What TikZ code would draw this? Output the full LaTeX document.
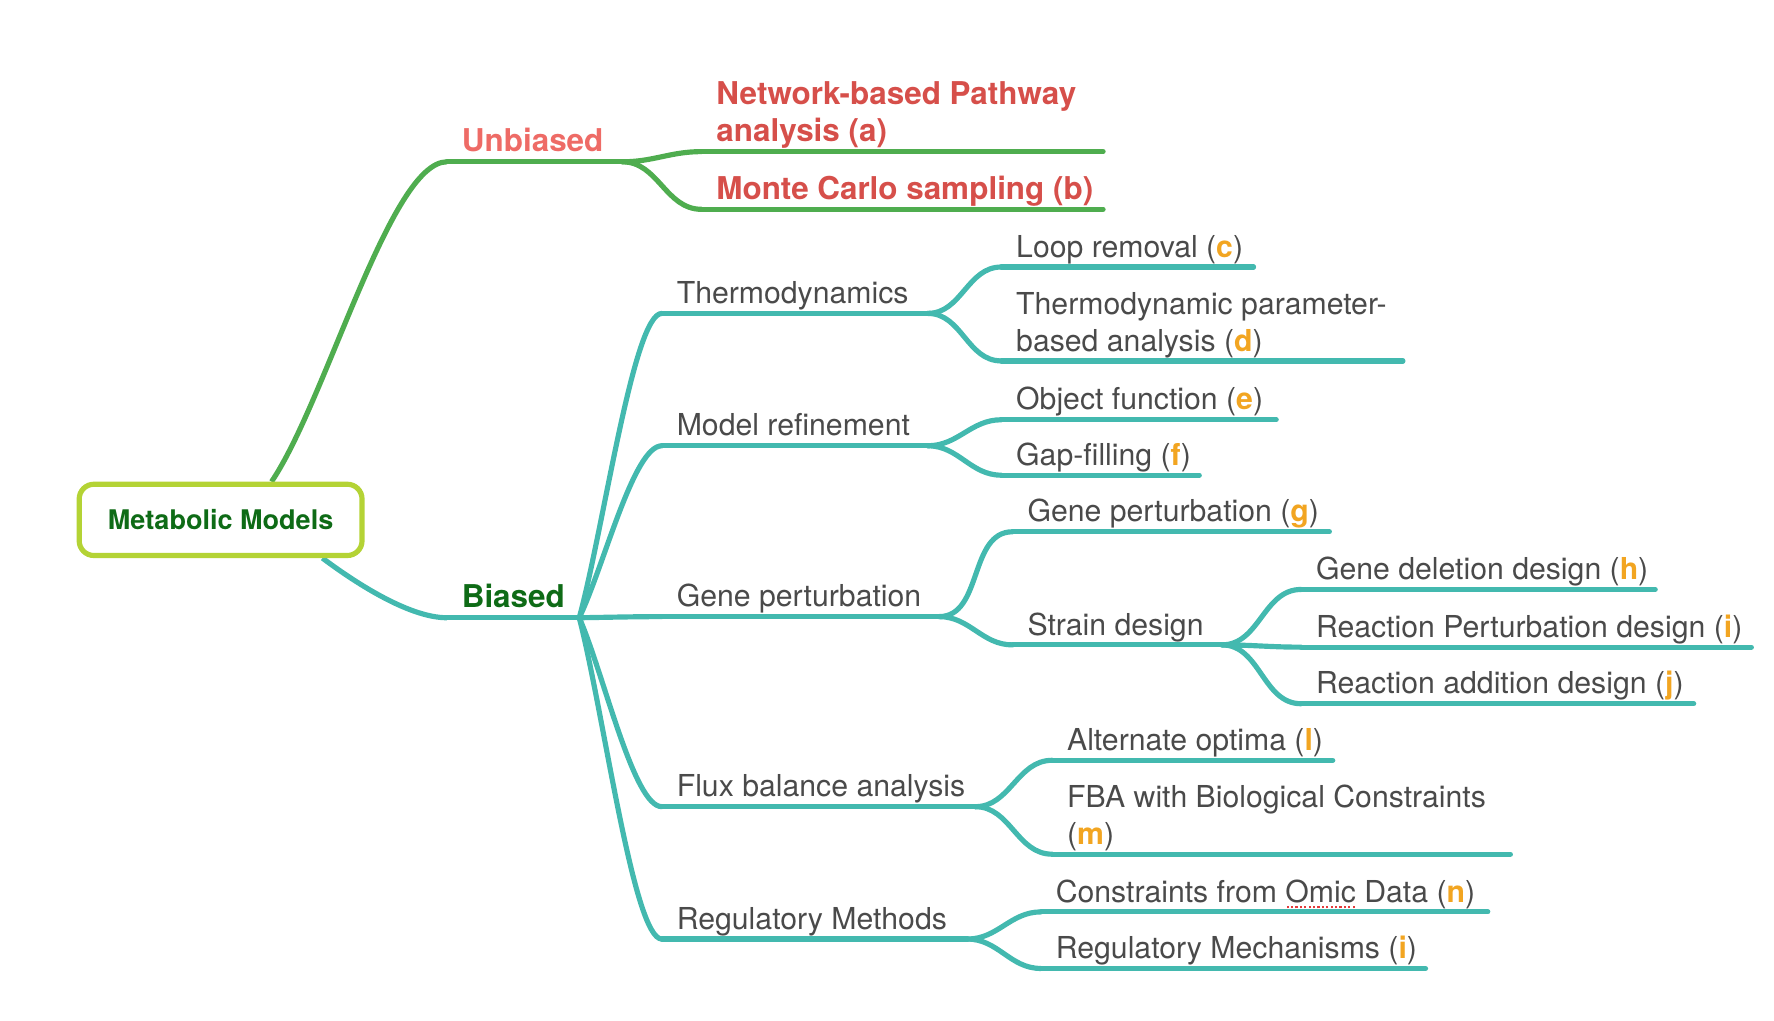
\documentclass[tikz,border=0pt]{standalone}
\usepackage{fontspec}
\setmainfont{TeX Gyre Heros}
\usetikzlibrary{calc,backgrounds}
\definecolor{tealline}{HTML}{43B9AF}
\definecolor{greenline}{HTML}{4FAD4F}
\definecolor{limeframe}{HTML}{B4D335}
\definecolor{darkleaf}{HTML}{0E6B16}
\definecolor{salmon}{HTML}{EE6B66}
\definecolor{redtext}{HTML}{D64F4A}
\definecolor{refletter}{HTML}{F2A521}
\definecolor{greytext}{HTML}{4A4A4A}
\definecolor{spellred}{HTML}{E23B3B}
\newcommand{\refl}[1]{\textbf{\textcolor{refletter}{#1}}}
\newsavebox{\spellbox}
\newcommand{\spellmark}[1]{\sbox{\spellbox}{#1}\rlap{\textcolor{spellred}{\raisebox{-1.6pt}{\hbox to \wd\spellbox{\xleaders\hbox to 1.1pt{\hss\rule{0.55pt}{0.55pt}\hss}\hfill}}}}\usebox{\spellbox}}
\begin{document}
\begin{tikzpicture}[x=0.1mm, y=-0.1mm, line cap=round, line join=round,
    font=\fontsize{7.6}{9.2}\selectfont,
    leaf/.style={anchor=south west, inner xsep=1.25mm, inner ysep=-0.5pt, align=left, text=greytext, execute at end node=\strut},
    head/.style={leaf, font=\fontsize{7.9}{9.4}\selectfont\bfseries},
    twig/.style={line width=1.3pt, draw=tealline},
    fan/.style={to path={.. controls ($(\tikztostart)!0.3!(\tikztotarget)$) and ([xshift=-2.5mm]\tikztotarget) .. (\tikztotarget)}}]
\useasboundingbox (0,0) rectangle (1568,902);
\node[draw=limeframe, line width=1.3pt, rounded corners=1.3mm, fill=white, minimum width=25mm, minimum height=6.3mm, inner sep=0pt, text=darkleaf, font=\fontsize{6.8}{8}\selectfont\bfseries] (mm) at (195,459.5) {Metabolic Models};
\node[head, text=salmon] (ub) at (395,143) {Unbiased};
\node[head, text=darkleaf] (bi) at (395,546) {Biased};
\node[head, text=redtext] (nw) at (620,134) {Network-based Pathway\\analysis (a)};
\node[head, text=redtext] (mc) at (620,185) {Monte Carlo sampling (b)};
\node[leaf] (th) at (585,277) {Thermodynamics};
\node[leaf] (mr) at (585,394) {Model refinement};
\node[leaf] (gp) at (585,545) {Gene perturbation};
\node[leaf] (fb) at (585,713) {Flux balance analysis};
\node[leaf] (rm) at (585,830) {Regulatory Methods};
\node[leaf] (lr) at (885,236) {Loop removal (\refl{c})};
\node[leaf] (tp) at (885,319) {Thermodynamic parameter-\\based analysis (\refl{d})};
\node[leaf] (of) at (885,371) {Object function (\refl{e})};
\node[leaf] (gf) at (885,420) {Gap-filling (\refl{f})};
\node[leaf] (gg) at (895,470) {Gene perturbation (\refl{g})};
\node[leaf] (sd) at (895,570) {Strain design};
\node[leaf] (gd) at (1150,521) {Gene deletion design (\refl{h})};
\node[leaf] (rp) at (1150,572) {Reaction Perturbation design (\refl{i})};
\node[leaf] (ra) at (1150,622) {Reaction addition design (\refl{j})};
\node[leaf] (ao) at (930,672) {Alternate optima (\refl{l})};
\node[leaf] (fc) at (930,755) {FBA with Biological Constraints\\(\refl{m})};
\node[leaf] (co) at (920,806) {Constraints from \spellmark{Omic} Data (\refl{n})};
\node[leaf] (rg) at (920,856) {Regulatory Mechanisms (\refl{i})};
\foreach \n/\l in {ub/155, nw/355, mc/355}
  \draw[twig, draw=greenline] (\n.south west) -- ++(\l,0) coordinate (\n-e);
\foreach \n/\l in {bi/117, th/235, mr/235, gp/245, fb/277, rm/270, lr/223, tp/355, of/243, gf/175,
    gg/280, sd/185, gd/313, rp/398, ra/347, ao/248, fc/405, co/395, rg/340}
  \draw[twig] (\n.south west) -- ++(\l,0) coordinate (\n-e);
\foreach \c in {nw,mc}
  \draw[twig, draw=greenline] (ub-e) to[out=0,in=180] (\c.south west);
\foreach \c in {th,mr,gp,fb,rm}
  \draw[twig] (bi-e) to[fan] (\c.south west);
\foreach \p/\c in {th/lr, th/tp, mr/of, mr/gf, gp/gg, gp/sd, sd/gd, sd/rp, sd/ra, fb/ao, fb/fc, rm/co, rm/rg}
  \draw[twig] (\p-e) to[out=0,in=180] (\c.south west);
\begin{scope}[on background layer]
\draw[twig, draw=greenline] ([xshift=4.5mm]mm.north) .. controls (288,355) and (345,143) .. (ub.south west);
\draw[twig] ([xshift=9mm]mm.south) .. controls (310,512) and (360,546) .. (bi.south west);
\end{scope}
\end{tikzpicture}
\end{document}
